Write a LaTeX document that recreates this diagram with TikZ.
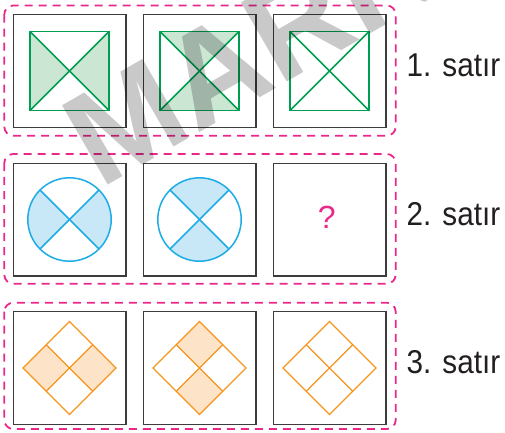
\documentclass[tikz,border=0pt]{standalone}
\usepackage{fontspec}
\setmainfont{Liberation Sans}
\usetikzlibrary{calc}
\definecolor{pinkc}{RGB}{234,40,140}
\definecolor{frameC}{RGB}{60,60,60}
\definecolor{grn}{RGB}{0,158,80}
\definecolor{grnF}{RGB}{204,230,212}
\definecolor{cyn}{RGB}{30,172,230}
\definecolor{cynF}{RGB}{200,232,248}
\definecolor{org}{RGB}{247,148,29}
\definecolor{orgF}{RGB}{253,228,200}
\definecolor{txtC}{RGB}{35,31,32}
\begin{document}
\begin{tikzpicture}[x=1pt,y=-1pt,
  frame/.style={draw=frameC,line width=1.4pt},
  dbox/.style={draw=pinkc,line width=1.8pt,dash pattern=on 8pt off 6pt,rounded corners=9pt},
  gline/.style={draw=grn,line width=1.5pt},
  gfill/.style={fill=grnF},
  cline/.style={draw=cyn,line width=1.5pt},
  cfill/.style={fill=cynF},
  oline/.style={draw=org,line width=1.3pt},
  ofill/.style={fill=orgF},
  lab/.style={anchor=base west,inner sep=0pt,text=txtC,font=\fontsize{33}{36}\selectfont},
  qmark/.style={anchor=base,inner sep=0pt,text=pinkc,font=\fontsize{32}{36}\selectfont},
  wmark/.style={anchor=base west,inner sep=0pt,text=black,text opacity=0.21,font=\fontsize{133}{135}\selectfont\bfseries}]
\useasboundingbox (0,0) rectangle (505,432);
\fill[white] (0,0) rectangle (505,432);
% dashed row boxes
\draw[dbox] (4.3,5.5) rectangle (395.7,135.7);
\draw[dbox] (4.3,154) rectangle (395.7,283.7);
\draw[dbox] (4.3,302.7) rectangle (395.7,429);
% outer frames
\foreach \x in {69.5,199.5,329.5}
  \foreach \y in {71,219.5,368}
    \draw[frame] ({\x-56.3},{\y-56.3}) rectangle ({\x+56.3},{\y+56.3});
% row 1: squares with diagonals
\foreach \x/\s in {69.5/1,199.5/2,329.5/0}{
  \def\cy{71}\def\a{39.5}
  \ifnum\s=1
    \fill[gfill] ({\x-\a},{\cy-\a}) -- ({\x-\a},{\cy+\a}) -- (\x,\cy) -- cycle;
    \fill[gfill] ({\x+\a},{\cy-\a}) -- ({\x+\a},{\cy+\a}) -- (\x,\cy) -- cycle;
  \fi
  \ifnum\s=2
    \fill[gfill] ({\x-\a},{\cy-\a}) -- ({\x+\a},{\cy-\a}) -- (\x,\cy) -- cycle;
    \fill[gfill] ({\x-\a},{\cy+\a}) -- ({\x+\a},{\cy+\a}) -- (\x,\cy) -- cycle;
  \fi
  \draw[gline] ({\x-\a},{\cy-\a}) rectangle ({\x+\a},{\cy+\a});
  \draw[gline] ({\x-\a},{\cy-\a}) -- ({\x+\a},{\cy+\a});
  \draw[gline] ({\x+\a},{\cy-\a}) -- ({\x-\a},{\cy+\a});
}
% row 2: circles
\foreach \x/\s in {69.5/1,199.5/2}{
  \def\cy{219.5}\def\r{41.7}
  \ifnum\s=1
    \fill[cfill] (\x,\cy) -- ++(135:\r) arc[start angle=135,end angle=225,radius=\r] -- cycle;
    \fill[cfill] (\x,\cy) -- ++(-45:\r) arc[start angle=-45,end angle=45,radius=\r] -- cycle;
  \fi
  \ifnum\s=2
    \fill[cfill] (\x,\cy) -- ++(45:\r) arc[start angle=45,end angle=135,radius=\r] -- cycle;
    \fill[cfill] (\x,\cy) -- ++(225:\r) arc[start angle=225,end angle=315,radius=\r] -- cycle;
  \fi
  \draw[cline] (\x,\cy) circle[radius=\r];
  \draw[cline] ($(\x,\cy)+(45:\r)$) -- ($(\x,\cy)+(225:\r)$);
  \draw[cline] ($(\x,\cy)+(135:\r)$) -- ($(\x,\cy)+(-45:\r)$);
}
\node[qmark] (q) at (326.7,228.3) {?};
% row 3: diamonds
\foreach \x/\s in {69.5/1,199.5/2,329.5/0}{
  \def\cy{368}\def\d{46.5}\def\h{23.25}
  \ifnum\s=1
    \fill[ofill] ({\x-\d},\cy) -- ({\x-\h},{\cy-\h}) -- (\x,\cy) -- ({\x-\h},{\cy+\h}) -- cycle;
    \fill[ofill] ({\x+\d},\cy) -- ({\x+\h},{\cy-\h}) -- (\x,\cy) -- ({\x+\h},{\cy+\h}) -- cycle;
  \fi
  \ifnum\s=2
    \fill[ofill] (\x,{\cy-\d}) -- ({\x+\h},{\cy-\h}) -- (\x,\cy) -- ({\x-\h},{\cy-\h}) -- cycle;
    \fill[ofill] (\x,{\cy+\d}) -- ({\x+\h},{\cy+\h}) -- (\x,\cy) -- ({\x-\h},{\cy+\h}) -- cycle;
  \fi
  \draw[oline] (\x,{\cy-\d}) -- ({\x+\d},\cy) -- (\x,{\cy+\d}) -- ({\x-\d},\cy) -- cycle;
  \draw[oline] ({\x-\h},{\cy-\h}) -- ({\x+\h},{\cy+\h});
  \draw[oline] ({\x+\h},{\cy-\h}) -- ({\x-\h},{\cy+\h});
}
% labels
\node[lab] (l1) at (406.5,76.3) {\scalebox{0.9}[1]{1. satır}};
\node[lab] (l2) at (406.5,225) {\scalebox{0.9}[1]{2. satır}};
\node[lab] (l3) at (406.5,373.3) {\scalebox{0.9}[1]{3. satır}};
% watermark
\node[wmark,rotate=30] (wm) at (100,190) {MARKA};
\end{tikzpicture}
\end{document}
